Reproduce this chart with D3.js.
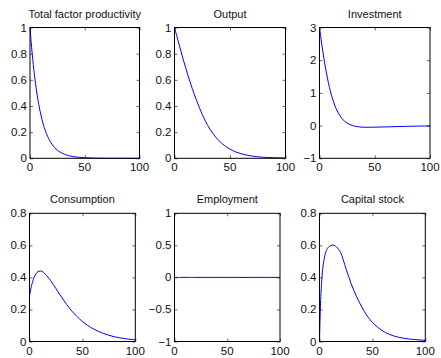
<!DOCTYPE html>
<html>
<head>
<meta charset="utf-8">
<script src="https://cdn.jsdelivr.net/npm/d3@7"></script>
<style>
  body { margin: 0; background: #fff; }
  svg { display: block; font-family: 'Liberation Sans', Arial, sans-serif; }
</style>
</head>
<body>
<div id="container"></div>
<script>
const periods = [0, 1, 2, 3, 4, 5, 6, 8, 10, 12, 14, 16, 18, 20, 25, 30, 35, 40, 45, 50, 60, 70, 80, 90, 100];

const tfp = [1, 0.895, 0.8, 0.717, 0.642, 0.574, 0.514, 0.412, 0.33, 0.264, 0.211, 0.169, 0.135, 0.108, 0.062, 0.036, 0.021, 0.012, 0.007, 0.004, 0.001, 0, 0, 0, 0];
const output = [1, 0.968, 0.937, 0.905, 0.874, 0.843, 0.812, 0.752, 0.694, 0.638, 0.584, 0.533, 0.485, 0.44, 0.335, 0.25, 0.185, 0.135, 0.098, 0.07, 0.035, 0.017, 0.008, 0.004, 0.002];
const investment = [3, 2.75, 2.5, 2.27, 2.05, 1.85, 1.66, 1.32, 1.03, 0.8, 0.6, 0.45, 0.33, 0.23, 0.08, 0, -0.035, -0.05, -0.05, -0.048, -0.04, -0.03, -0.022, -0.015, -0.01];
const consumption = [0.28, 0.32, 0.35, 0.375, 0.395, 0.41, 0.422, 0.436, 0.44, 0.437, 0.427, 0.413, 0.397, 0.38, 0.33, 0.28, 0.232, 0.19, 0.155, 0.125, 0.08, 0.05, 0.03, 0.018, 0.01];
const employment = [0, 0, 0, 0, 0, 0, 0, 0, 0, 0, 0, 0, 0, 0, 0, 0, 0, 0, 0, 0, 0, 0, 0, 0, 0];
const capital = [0, 0.24, 0.37, 0.45, 0.5, 0.535, 0.56, 0.585, 0.597, 0.602, 0.6, 0.59, 0.575, 0.555, 0.455, 0.36, 0.28, 0.215, 0.16, 0.12, 0.065, 0.035, 0.02, 0.012, 0.007];

const titles = ['Total factor productivity', 'Output', 'Investment', 'Consumption', 'Employment', 'Capital stock'];
const series = [tfp, output, investment, consumption, employment, capital];
const yDomains = [[0, 1], [0, 1], [-1, 3], [0, 0.8], [-1, 1], [0, 0.8]];
const yTicks = [
  [0, 0.2, 0.4, 0.6, 0.8, 1],
  [0, 0.2, 0.4, 0.6, 0.8, 1],
  [-1, 0, 1, 2, 3],
  [0, 0.2, 0.4, 0.6, 0.8],
  [-1, -0.5, 0, 0.5, 1],
  [0, 0.2, 0.4, 0.6, 0.8],
];
const xTicks = [0, 50, 100];

// axes boxes [left, right, top, bottom]
const boxes = [
  [30, 139.5, 27.5, 158.3],
  [174.5, 285.5, 27.5, 158.3],
  [319.5, 430, 27.5, 158.3],
  [29.5, 135.3, 213.3, 341.5],
  [174.5, 280, 213.3, 341.5],
  [319.5, 425.3, 213.3, 341.5],
];

const width = 441; const height = 358;
const svg = d3.select('#container').append('svg')
    .attr('width', width)
    .attr('height', height);

const fmt = (v) => String(v).replace('-', '\u2212');

series.forEach((vals, i) => {
  const [l, r, t, b] = boxes[i];
  const x = d3.scaleLinear().domain([0, 100]).range([l, r]);
  const y = d3.scaleLinear().domain(yDomains[i]).range([b, t]);
  const g = svg.append('g');

  // curve
  const line = d3.line()
      .x((d, k) => x(periods[k]))
      .y((d) => y(d))
      .curve(d3.curveMonotoneX);
  g.append('path').datum(vals)
      .attr('d', line)
      .attr('fill', 'none')
      .attr('stroke', '#0000ff')
      .attr('stroke-width', 1);

  // inside ticks on all four sides
  const tl = 3;
  const axB = d3.axisTop(x).tickValues(xTicks).tickSize(tl).tickFormat('');
  const axT = d3.axisBottom(x).tickValues(xTicks).tickSize(tl).tickFormat('');
  const axL = d3.axisRight(y).tickValues(yTicks[i]).tickSize(tl).tickFormat('');
  const axR = d3.axisLeft(y).tickValues(yTicks[i]).tickSize(tl).tickFormat('');
  [[axB, `translate(0,${b})`], [axT, `translate(0,${t})`], [axL, `translate(${l},0)`], [axR, `translate(${r},0)`]].forEach(([ax, tr]) => {
    const a = g.append('g').attr('transform', tr).call(ax);
    a.select('.domain').remove();
    a.selectAll('line').attr('stroke', '#000').attr('stroke-width', 0.6);
  });

  // box
  g.append('rect')
      .attr('x', l).attr('y', t)
      .attr('width', r - l).attr('height', b - t)
      .attr('fill', 'none')
      .attr('stroke', '#000')
      .attr('stroke-width', 1);

  // tick labels
  g.selectAll('.xl').data(xTicks).enter().append('text')
      .attr('x', (d) => x(d))
      .attr('y', b + 13)
      .attr('text-anchor', 'middle')
      .attr('font-size', 11.5)
      .attr('fill', '#111')
      .text((d) => fmt(d));
  g.selectAll('.yl').data(yTicks[i]).enter().append('text')
      .attr('x', l - 3)
      .attr('y', (d) => y(d) + 4)
      .attr('text-anchor', 'end')
      .attr('font-size', 11.5)
      .attr('fill', '#111')
      .text((d) => fmt(d));

  // title
  g.append('text')
      .attr('x', (l + r) / 2)
      .attr('y', t - 10)
      .attr('text-anchor', 'middle')
      .attr('font-size', 11)
      .attr('fill', '#111')
      .text(titles[i]);
});
</script>
</body>
</html>
